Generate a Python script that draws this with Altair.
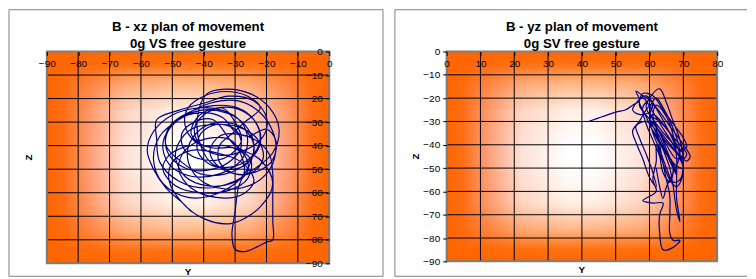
import altair as alt
import pandas as pd

# ---------------- data ----------------
xz_y = [-44,-47,-52,-56,-58,-56,-50,-42,-34,-28,
        -26,-28,-35,-44,-51,-53,-49,-41,-33,-27,
        -24,-27,-35,-45,-53,-56,-54,-47,-38,-29,-22,-18,
        -17,-20,-28,-38,-44,-45,-41,-34,-27,-24,
        -25,-30,-37,-41,-42,-39,-33,-25,-19,-16,-18,-24,
        -30,-39,-48,-54,-55,-55,-48,-40,
        -32,-24,-20,-21,-27,-35,-41,-43,-40,-34,
        -30,-28,-33,-40,-46,-47,-43,-37,
        -30,-22,-18,-22,-31,-40,-47,-51,-50,-44,-36,
        -28,-24,-28,-36,-44,-48,-46,-39,-31,
        -27,-29,-30,-31,-30,-27,-23,-20,-18,-18,-18,-18,-19,-23,-30,
        -35,-38,-36,-30,-24,-21,-23,-29,-37,-44,-48,
        -49,-46,-39,-31,-26,-27,-33,
        -40,-44,-42,-36,-28,-23,-22,-26,-33,-41,-47,
        -52,-51,-45,-37,-29,-24,-22,-25,-31,-38,-42,-41,-36,-30,-28,-31,
        -37,-45,-51,-52,-48,-41,-34,-30,
        -26,-20,-17,-18,-23,-30,-35,-35,-31,
        -27,-22,-26,-33,-40,-45,-46,-43,-37,
        -30,-25,-26,-32,-41,-49,-53,-51,-45]
xz_z = [-68,-64,-58,-50,-42,-34,-27,-24,-25,-30,
        -38,-46,-52,-53,-48,-39,-30,-25,-26,-31,
        -40,-52,-60,-62,-56,-46,-36,-28,-22,-21,-26,-34,
        -42,-52,-58,-57,-50,-41,-33,-30,-33,-40,
        -46,-50,-48,-40,-28,-18,-16,-18,-24,-33,-43,-50,
        -55,-58,-55,-47,-37,-29,-25,-22,
        -19,-21,-28,-36,-42,-44,-40,-33,-27,-24,
        -30,-38,-45,-46,-42,-35,-30,-29,
        -40,-46,-56,-66,-73,-71,-64,-55,-47,-42,-43,
        -47,-55,-61,-62,-58,-50,-42,-37,-38,
        -50,-58,-68,-78,-84,-85,-83,-81,-80,-72,-62,-52,-44,-38,-35,
        -36,-42,-48,-52,-51,-45,-37,-32,-31,-33,-39,
        -45,-53,-57,-56,-51,-44,-40,
        -40,-35,-28,-24,-25,-31,-39,-47,-52,-52,-47,
        -40,-32,-26,-23,-24,-29,-37,-45,-49,-48,-42,-35,-31,-33,-40,-46,
        -50,-50,-44,-36,-29,-26,-28,-34,
        -36,-33,-38,-46,-51,-52,-47,-40,-35,
        -30,-24,-19,-17,-19,-24,-31,-38,-41,
        -41,-46,-54,-59,-60,-57,-50,-44,-40]

yz_y = [42,46,50,53,55,57,56,58,61,60,57,55,
        58,61,64,67,69,70,68,65,62,59,57,
        59,62,66,70,72,71,68,64,60,57,
        58,61,64,67,70,71,69,66,62,59,60,
        63,65,67,69,70,69,67,65,63,61,60,61,
        59,57,55,56,58,60,62,61,59,57,56,
        59,62,64,66,68,67,64,62,60,
        61,64,67,69,70,68,66,64,62,
        62,61,62,58,61,64,63,63,64,67,69,67,66,66,66,65,64,63,62,61,62,
        65,67,68,68,68,69,68,67,66,64,62,
        60,63,66,69,71,70,67,64,61,
        63,65,67,66,64,63,61,59,58,60,63,66,68,70,68,65,62,60,62,64,67,69,67,65,64,63,62]
yz_z = [-30,-28,-26,-25,-23,-21,-17,-19,-22,-26,-27,-25,
        -20,-26,-33,-40,-46,-50,-49,-44,-37,-28,-21,
        -19,-24,-32,-40,-45,-47,-43,-36,-29,-23,
        -18,-19,-25,-31,-37,-41,-42,-38,-31,-24,-20,
        -16,-22,-30,-38,-48,-55,-56,-50,-42,-35,-28,-22,
        -25,-30,-34,-39,-46,-54,-58,-52,-44,-37,-32,
        -30,-34,-40,-47,-53,-48,-41,-36,-31,
        -27,-31,-37,-44,-52,-58,-55,-48,-40,
        -47,-55,-60,-64,-65,-65,-70,-78,-85,-84,-81,-81,-78,-70,-62,-55,-48,-40,-33,-27,-23,
        -28,-36,-45,-55,-63,-73,-68,-58,-50,-42,-35,
        -28,-30,-35,-40,-44,-46,-42,-37,-30,
        -35,-42,-50,-56,-52,-45,-38,-31,-24,-21,-27,-35,-41,-44,-46,-40,-32,-25,-20,-24,-33,-44,-52,-58,-63,-58,-50]

left_titles = ["B - xz plan of movement", "0g VS free gesture"]
right_titles = ["B - yz plan of movement", "0g SV free gesture"]
left_x_ticks = list(range(-90, 1, 10))
right_x_ticks = list(range(0, 81, 10))
z_ticks = list(range(-90, 1, 10))

FONT = "Liberation Sans"


def grad(vertical, colors):
    offs = [0, 0.06, 0.15, 0.28, 0.45, 0.55, 0.72, 0.85, 0.94, 1]
    cols = colors + colors[::-1]
    return {"gradient": "linear", "x1": 0, "y1": 0,
            "x2": 0 if vertical else 1, "y2": 1 if vertical else 0,
            "stops": [{"offset": o, "color": c} for o, c in zip(offs, cols)]}


H_GRAD = grad(False, ["#ff6600", "#ff6e16", "#fd9d74", "#fde2d8", "#ffffff"])
V_GRAD = grad(True, ["rgba(255,102,0,1)", "rgba(255,102,0,0.92)", "rgba(255,102,0,0.48)",
                     "rgba(255,102,0,0.1)", "rgba(255,102,0,0)"])


def panel(xs, zs, titles, xticks, xdom, W, H, yaxis_right, frame):
    one = pd.DataFrame({"a": [0]})
    fl, fr, ft, fb, right_edge = frame
    xscale = alt.Scale(domain=xdom, nice=False, zero=False)
    zscale = alt.Scale(domain=[-90, 0], nice=False, zero=False)
    xaxis = alt.Axis(values=xticks, orient="bottom", offset=-H, title=None, grid=False,
                     domain=False, tickSize=4, tickColor="black", labelPadding=3,
                     labelFont=FONT, labelFontSize=10, labelColor="black",
                     labelFlush=False, labelOverlap=False, zindex=2)
    zaxis = alt.Axis(values=z_ticks, orient="left", offset=(-W if yaxis_right else 0),
                     title=None, grid=False, domain=False, tickSize=4, tickColor="black",
                     labelPadding=3, labelFont=FONT, labelFontSize=10, labelColor="black",
                     labelFlush=False, labelOverlap=False, zindex=2)
    fcol = "#808080"
    f_left = alt.Chart(one).mark_rule(color=fcol, strokeWidth=1).encode(
        x=alt.value(fl), y=alt.value(ft), y2=alt.value(H + fb))
    f_top = alt.Chart(one).mark_rule(color=fcol, strokeWidth=1).encode(
        x=alt.value(fl), x2=alt.value(W + fr), y=alt.value(ft))
    f_bot = alt.Chart(one).mark_rule(color=fcol, strokeWidth=1).encode(
        x=alt.value(fl), x2=alt.value(W + fr), y=alt.value(H + fb))
    layers = [f_left, f_top, f_bot]
    if right_edge:
        layers.append(alt.Chart(one).mark_rule(color=fcol, strokeWidth=1).encode(
            x=alt.value(W + fr), y=alt.value(ft), y2=alt.value(H + fb)))
    bg1 = alt.Chart(one).mark_rect(fill=H_GRAD).encode(
        x=alt.value(0), x2=alt.value(W), y=alt.value(0), y2=alt.value(H))
    bg2 = alt.Chart(one).mark_rect(fill=V_GRAD).encode(
        x=alt.value(0), x2=alt.value(W), y=alt.value(0), y2=alt.value(H))
    vgrid = alt.Chart(pd.DataFrame({"yv": xticks})).mark_rule(color="black", strokeWidth=1).encode(
        x=alt.X("yv:Q", scale=xscale, axis=xaxis))
    hgrid = alt.Chart(pd.DataFrame({"zv": z_ticks})).mark_rule(color="black", strokeWidth=1).encode(
        y=alt.Y("zv:Q", scale=zscale, axis=zaxis))
    border = alt.Chart(one).mark_rect(fillOpacity=0, stroke="#808080", strokeWidth=2).encode(
        x=alt.value(0), x2=alt.value(W), y=alt.value(0), y2=alt.value(H))
    df = pd.DataFrame({"yv": xs, "zv": zs, "i": list(range(len(xs)))})
    line = alt.Chart(df).mark_line(color="#000080", strokeWidth=1.2, interpolate="catmull-rom").encode(
        x=alt.X("yv:Q", scale=xscale, axis=xaxis),
        y=alt.Y("zv:Q", scale=zscale, axis=zaxis),
        order="i:Q")
    t1 = alt.Chart(one).mark_text(text=titles[0], font=FONT, fontSize=13.3, fontWeight="bold",
                                  baseline="alphabetic", align="center").encode(
        x=alt.value(W / 2), y=alt.value(-21))
    t2 = alt.Chart(one).mark_text(text=titles[1], font=FONT, fontSize=13.3, fontWeight="bold",
                                  baseline="alphabetic", align="center").encode(
        x=alt.value(W / 2), y=alt.value(-4))
    ty = alt.Chart(one).mark_text(text="Y", font=FONT, fontSize=10, fontWeight="bold",
                                  baseline="middle", align="center").encode(
        x=alt.value(W / 2), y=alt.value(H + 9))
    tz = alt.Chart(one).mark_text(text="Z", font=FONT, fontSize=10, fontWeight="bold",
                                  baseline="middle", align="center", angle=270).encode(
        x=alt.value(-18 if yaxis_right else -31), y=alt.value(H / 2))
    layers += [bg1, bg2, vgrid, hgrid, border, line, t1, t2, ty, tz]
    return alt.layer(*layers).properties(width=W, height=H)


left = panel(xz_y, xz_z, left_titles, left_x_ticks, [-90, 0], 284, 213, True, (-38, 54, -42, 13, True))
right = panel(yz_y, yz_z, right_titles, right_x_ticks, [0, 80], 272, 211, False, (-52, 30, -42, 15, False))

chart = alt.hconcat(left, right, spacing=10).properties(padding=0).configure_view(strokeWidth=0)
chart.save("out.html", embed_options={"renderer": "svg", "actions": False})
